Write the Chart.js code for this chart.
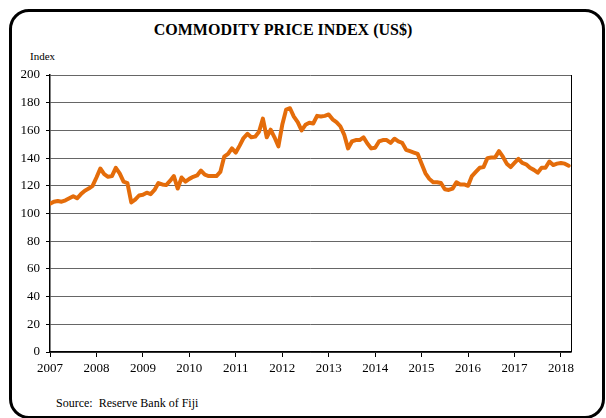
<!DOCTYPE html>
<html>
<head>
<meta charset="utf-8">
<script src="https://cdn.jsdelivr.net/npm/chart.js@4.4.0/dist/chart.umd.min.js"></script>
<style>
  body { margin: 0; background: #fff; }
  #wrap { position: relative; width: 606px; height: 418px; overflow: hidden; font-family: "Liberation Serif", "Times New Roman", serif; }
  #frame { position: absolute; left: 9px; top: 9px; width: 590px; height: 404px; border: 3px solid #000; border-radius: 20px; }
  #title { position: absolute; left: 0; width: 566px; top: 21px; text-align: center; font-weight: bold; font-size: 16px; }
  #unit { position: absolute; left: 30px; top: 50px; font-size: 11px; }
  #source { position: absolute; left: 56px; top: 396px; font-size: 12px; }
  canvas { position: absolute; left: 0; top: 0; }
</style>
</head>
<body>
<div id="wrap">
  <div id="frame"></div>
  <div id="title">COMMODITY PRICE INDEX (US$)</div>
  <div id="unit">Index</div>
  <div id="source">Source:&nbsp; Reserve Bank of Fiji</div>
  <canvas id="priceChart" width="606" height="418"></canvas>
</div>
<script>
// monthly index, Jan 2007 .. Mar 2018
var priceIndex = [
  107, 108.5, 109, 108.5, 109.5, 111, 112.5, 111, 114, 116.5, 118, 120,
  126, 132.5, 128.5, 126.5, 127, 133, 129, 123, 122, 108, 110, 113,
  113.5, 115, 114, 117, 122, 121, 120.5, 123.5, 127, 118, 126, 123,
  125, 126.5, 127.5, 131, 128, 127, 127, 127, 130, 141, 143, 147,
  144, 149, 154.5, 157.5, 155, 155.5, 159, 168.5, 155, 160.5, 155, 148.5,
  164, 175, 176, 170, 166, 160, 164, 165.5, 165, 170.5, 170, 170.5,
  171.5, 168, 166, 163, 157, 147, 152, 153, 153, 155, 150.5, 147,
  147.5, 152, 153, 153, 151, 154, 152, 151, 146, 145, 144, 143,
  136, 129, 125, 122.5, 122.5, 122, 117.5, 117, 118, 122.5, 121, 121,
  120, 127, 130, 133, 133.5, 140, 140.5, 140.5, 145, 141, 136, 133.5,
  136.5, 139.5, 136.5, 135.5, 133, 131.5, 129.5, 133, 133, 137.5, 135, 136,
  136.5, 136, 134.5
];
var years = [2007, 2008, 2009, 2010, 2011, 2012, 2013, 2014, 2015, 2016, 2017, 2018];
var yTicks = [0, 20, 40, 60, 80, 100, 120, 140, 160, 180, 200];

var points = priceIndex.map(function (v, i) { return { x: i, y: v }; });

var rightBorder = {
    id: 'rightBorder',
    afterDraw: function (chart) {
        var a = chart.chartArea, ctx = chart.ctx;
        ctx.save();
        ctx.strokeStyle = '#000';
        ctx.lineWidth = 1;
        ctx.beginPath();
        ctx.moveTo(a.right + 0.5, a.top);
        ctx.lineTo(a.right + 0.5, a.bottom);
        ctx.stroke();
        ctx.restore();
    }
};

var ctx = document.getElementById('priceChart');
new Chart(ctx, {
    type: 'line',
    data: {
        datasets: [{
            data: points,
            borderColor: '#E46C0A',
            borderWidth: 4,
            borderJoinStyle: 'round',
            borderCapStyle: 'round',
            pointRadius: 0,
            tension: 0,
            fill: false
        }]
    },
    options: {
        responsive: false,
        animation: false,
        layout: { padding: { top: 75, right: 35, bottom: 36, left: 0 } },
        plugins: { legend: { display: false }, tooltip: { enabled: false } },
        scales: {
            x: {
                type: 'linear',
                min: 0,
                max: 134.6,
                afterBuildTicks: function (scale) {
                    scale.ticks = years.map(function (y, i) { return { value: i * 12 }; });
                },
                afterFit: function (scale) { scale.height = 30; },
                ticks: {
                    color: '#000',
                    font: { family: 'Liberation Serif', size: 13 },
                    padding: 4,
                    maxRotation: 0,
                    autoSkip: false,
                    callback: function (v) { return String(2007 + Math.round(v / 12)); }
                },
                grid: { drawOnChartArea: false, tickLength: 5, tickColor: '#000' },
                border: { color: '#000', width: 1.5 }
            },
            y: {
                min: 0,
                max: 200,
                afterBuildTicks: function (scale) {
                    scale.ticks = yTicks.map(function (v) { return { value: v }; });
                },
                afterFit: function (scale) { scale.width = 50; },
                ticks: {
                    color: '#000',
                    font: { family: 'Liberation Serif', size: 13 },
                    padding: 6
                },
                grid: {
                    color: '#666',
                    borderDash: [2, 1],
                    tickLength: 4,
                    tickColor: '#000',
                    tickBorderDash: []
                },
                border: { color: '#000', width: 1.5 }
            }
        }
    },
    plugins: [rightBorder]
});
</script>
</body>
</html>
